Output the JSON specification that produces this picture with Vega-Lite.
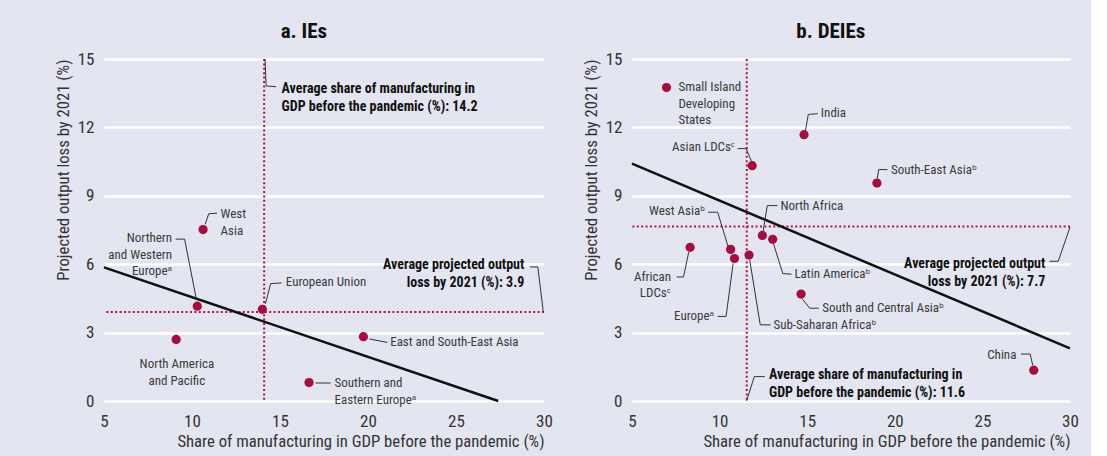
{
  "$schema": "https://vega.github.io/schema/vega-lite/v6.json",
  "padding": {"left": 55, "top": 21, "right": 12, "bottom": 8},
  "spacing": 88,
  "bounds": "flush",
  "datasets": {
    "pts": [
      {"panel": "a", "name": "West Asia", "x": 10.63, "y": 7.52},
      {"panel": "a", "name": "Northern and Western Europe", "x": 10.3, "y": 4.16},
      {"panel": "a", "name": "European Union", "x": 14.0, "y": 4.02},
      {"panel": "a", "name": "North America and Pacific", "x": 9.1, "y": 2.7},
      {"panel": "a", "name": "East and South-East Asia", "x": 19.74, "y": 2.82},
      {"panel": "a", "name": "Southern and Eastern Europe", "x": 16.65, "y": 0.81},
      {"panel": "b", "name": "Small Island Developing States", "x": 6.97, "y": 13.75},
      {"panel": "b", "name": "India", "x": 14.82, "y": 11.68},
      {"panel": "b", "name": "Asian LDCs", "x": 11.86, "y": 10.32},
      {"panel": "b", "name": "South-East Asia", "x": 18.98, "y": 9.56},
      {"panel": "b", "name": "North Africa", "x": 12.44, "y": 7.26},
      {"panel": "b", "name": "Latin America", "x": 13.03, "y": 7.09},
      {"panel": "b", "name": "West Asia", "x": 10.63, "y": 6.65},
      {"panel": "b", "name": "Europe", "x": 10.85, "y": 6.25},
      {"panel": "b", "name": "Sub-Saharan Africa", "x": 11.68, "y": 6.4},
      {"panel": "b", "name": "African LDCs", "x": 8.32, "y": 6.74},
      {"panel": "b", "name": "South and Central Asia", "x": 14.65, "y": 4.69},
      {"panel": "b", "name": "China", "x": 27.93, "y": 1.35}
    ],
    "avg": [
      {"panel": "a", "dir": "v", "x": 14.1},
      {"panel": "a", "dir": "h", "y": 3.9},
      {"panel": "b", "dir": "v", "x": 11.55},
      {"panel": "b", "dir": "h", "y": 7.65}
    ],
    "reg": [
      {"panel": "a", "x": 5, "y": 5.86},
      {"panel": "a", "x": 27.4, "y": 0},
      {"panel": "b", "x": 5, "y": 10.41},
      {"panel": "b", "x": 30, "y": 2.31}
    ],
    "lbl": [
      {"panel": "a", "kind": "region", "name": "West Asia", "text": "West\nAsia", "x": 11.62, "y": 8.2},
      {"panel": "a", "kind": "region", "name": "Northern and Western Europe", "text": "Northern\nand Western\nEuropeᵃ", "x": 8.87, "y": 7.14},
      {"panel": "a", "kind": "region", "name": "European Union", "text": "European Union", "x": 15.33, "y": 5.22},
      {"panel": "a", "kind": "region", "name": "North America and Pacific", "text": "North America\nand Pacific", "x": 9.14, "y": 1.62},
      {"panel": "a", "kind": "region", "name": "East and South-East Asia", "text": "East and South-East Asia", "x": 21.26, "y": 2.57},
      {"panel": "a", "kind": "region", "name": "Southern and Eastern Europe", "text": "Southern and\nEastern Europeᵃ", "x": 18.1, "y": 0.77},
      {"panel": "a", "kind": "average", "name": "Average share", "text": "Average share of manufacturing in\nGDP before the pandemic (%): 14.2", "x": 15.09, "y": 13.7},
      {"panel": "a", "kind": "average", "name": "Average loss", "text": "Average projected output\nloss by 2021 (%): 3.9", "x": 28.88, "y": 5.98},
      {"panel": "b", "kind": "region", "name": "Small Island Developing States", "text": "Small Island\nDeveloping\nStates", "x": 7.65, "y": 13.76},
      {"panel": "b", "kind": "region", "name": "India", "text": "India", "x": 15.78, "y": 12.62},
      {"panel": "b", "kind": "region", "name": "Asian LDCs", "text": "Asian LDCsᶜ", "x": 10.89, "y": 11.13},
      {"panel": "b", "kind": "region", "name": "South-East Asia", "text": "South-East Asiaᵇ", "x": 19.78, "y": 10.15},
      {"panel": "b", "kind": "region", "name": "North Africa", "text": "North Africa", "x": 13.47, "y": 8.57},
      {"panel": "b", "kind": "region", "name": "Latin America", "text": "Latin Americaᵇ", "x": 14.27, "y": 5.56},
      {"panel": "b", "kind": "region", "name": "West Asia", "text": "West Asiaᵇ", "x": 9.18, "y": 8.34},
      {"panel": "b", "kind": "region", "name": "African LDCs", "text": "African\nLDCsᶜ", "x": 7.23, "y": 5.44},
      {"panel": "b", "kind": "region", "name": "Europe", "text": "Europeᵃ", "x": 9.69, "y": 3.71},
      {"panel": "b", "kind": "region", "name": "Sub-Saharan Africa", "text": "Sub-Saharan Africaᵇ", "x": 13.07, "y": 3.34},
      {"panel": "b", "kind": "region", "name": "South and Central Asia", "text": "South and Central Asiaᵇ", "x": 15.86, "y": 4.07},
      {"panel": "b", "kind": "region", "name": "China", "text": "China", "x": 26.94, "y": 2.03},
      {"panel": "b", "kind": "average", "name": "Average share", "text": "Average share of manufacturing in\nGDP before the pandemic (%): 11.6", "x": 12.82, "y": 1.12},
      {"panel": "b", "kind": "average", "name": "Average loss", "text": "Average projected output\nloss by 2021 (%): 7.7", "x": 28.59, "y": 6.01}
    ],
    "ldr": [
      {"panel": "a", "name": "West Asia", "i": 0, "x": 10.75, "y": 7.75},
      {"panel": "a", "name": "West Asia", "i": 1, "x": 10.95, "y": 8.21},
      {"panel": "a", "name": "West Asia", "i": 2, "x": 11.42, "y": 8.24},
      {"panel": "a", "name": "Northern and Western Europe", "i": 0, "x": 9.07, "y": 7.1},
      {"panel": "a", "name": "Northern and Western Europe", "i": 1, "x": 9.58, "y": 7.1},
      {"panel": "a", "name": "Northern and Western Europe", "i": 2, "x": 10.24, "y": 4.49},
      {"panel": "a", "name": "European Union", "i": 0, "x": 14.17, "y": 4.26},
      {"panel": "a", "name": "European Union", "i": 1, "x": 14.47, "y": 5.15},
      {"panel": "a", "name": "European Union", "i": 2, "x": 15.09, "y": 5.18},
      {"panel": "a", "name": "East and South-East Asia", "i": 0, "x": 20.08, "y": 2.72},
      {"panel": "a", "name": "East and South-East Asia", "i": 1, "x": 21.1, "y": 2.57},
      {"panel": "a", "name": "Southern and Eastern Europe", "i": 0, "x": 17.02, "y": 0.79},
      {"panel": "a", "name": "Southern and Eastern Europe", "i": 1, "x": 17.88, "y": 0.79},
      {"panel": "a", "name": "Average share", "i": 0, "x": 14.15, "y": 15},
      {"panel": "a", "name": "Average share", "i": 1, "x": 14.21, "y": 13.82},
      {"panel": "a", "name": "Average share", "i": 2, "x": 14.78, "y": 13.78},
      {"panel": "a", "name": "Average loss", "i": 0, "x": 29.21, "y": 5.88},
      {"panel": "a", "name": "Average loss", "i": 1, "x": 29.65, "y": 5.88},
      {"panel": "a", "name": "Average loss", "i": 2, "x": 29.96, "y": 3.91},
      {"panel": "b", "name": "India", "i": 0, "x": 14.9, "y": 11.84},
      {"panel": "b", "name": "India", "i": 1, "x": 15.06, "y": 12.57},
      {"panel": "b", "name": "India", "i": 2, "x": 15.6, "y": 12.6},
      {"panel": "b", "name": "Asian LDCs", "i": 0, "x": 11.03, "y": 11.07},
      {"panel": "b", "name": "Asian LDCs", "i": 1, "x": 11.52, "y": 11.07},
      {"panel": "b", "name": "Asian LDCs", "i": 2, "x": 11.82, "y": 10.51},
      {"panel": "b", "name": "South-East Asia", "i": 0, "x": 19.0, "y": 9.75},
      {"panel": "b", "name": "South-East Asia", "i": 1, "x": 19.08, "y": 10.15},
      {"panel": "b", "name": "South-East Asia", "i": 2, "x": 19.58, "y": 10.15},
      {"panel": "b", "name": "North Africa", "i": 0, "x": 13.31, "y": 8.57},
      {"panel": "b", "name": "North Africa", "i": 1, "x": 12.72, "y": 8.57},
      {"panel": "b", "name": "North Africa", "i": 2, "x": 12.48, "y": 7.43},
      {"panel": "b", "name": "Latin America", "i": 0, "x": 13.07, "y": 6.91},
      {"panel": "b", "name": "Latin America", "i": 1, "x": 13.61, "y": 5.59},
      {"panel": "b", "name": "Latin America", "i": 2, "x": 14.11, "y": 5.56},
      {"panel": "b", "name": "West Asia", "i": 0, "x": 9.34, "y": 8.28},
      {"panel": "b", "name": "West Asia", "i": 1, "x": 9.89, "y": 8.28},
      {"panel": "b", "name": "West Asia", "i": 2, "x": 10.49, "y": 6.76},
      {"panel": "b", "name": "African LDCs", "i": 0, "x": 7.55, "y": 5.44},
      {"panel": "b", "name": "African LDCs", "i": 1, "x": 7.94, "y": 5.44},
      {"panel": "b", "name": "African LDCs", "i": 2, "x": 8.24, "y": 6.54},
      {"panel": "b", "name": "Europe", "i": 0, "x": 9.89, "y": 3.71},
      {"panel": "b", "name": "Europe", "i": 1, "x": 10.37, "y": 3.71},
      {"panel": "b", "name": "Europe", "i": 2, "x": 10.77, "y": 6.03},
      {"panel": "b", "name": "Sub-Saharan Africa", "i": 0, "x": 11.72, "y": 6.18},
      {"panel": "b", "name": "Sub-Saharan Africa", "i": 1, "x": 12.32, "y": 3.34},
      {"panel": "b", "name": "Sub-Saharan Africa", "i": 2, "x": 12.92, "y": 3.34},
      {"panel": "b", "name": "South and Central Asia", "i": 0, "x": 14.71, "y": 4.49},
      {"panel": "b", "name": "South and Central Asia", "i": 1, "x": 15.14, "y": 4.07},
      {"panel": "b", "name": "South and Central Asia", "i": 2, "x": 15.66, "y": 4.07},
      {"panel": "b", "name": "China", "i": 0, "x": 27.2, "y": 2.06},
      {"panel": "b", "name": "China", "i": 1, "x": 27.73, "y": 2.06},
      {"panel": "b", "name": "China", "i": 2, "x": 27.87, "y": 1.57},
      {"panel": "b", "name": "Average share", "i": 0, "x": 11.54, "y": 0},
      {"panel": "b", "name": "Average share", "i": 1, "x": 11.98, "y": 1.07},
      {"panel": "b", "name": "Average share", "i": 2, "x": 12.58, "y": 1.07},
      {"panel": "b", "name": "Average loss", "i": 0, "x": 28.83, "y": 6.13},
      {"panel": "b", "name": "Average loss", "i": 1, "x": 29.33, "y": 6.13},
      {"panel": "b", "name": "Average loss", "i": 2, "x": 30.0, "y": 7.63}
    ]
  },
  "hconcat": [
    {
      "title": {"text": "a. IEs", "frame": "bounds"},
      "width": 440,
      "height": 342,
      "layer": [
        {"data": {"name": "avg"}, "transform": [{"filter": "datum.panel == 'a' && datum.dir == 'v'"}],
         "mark": {"type": "rule", "color": "#b0143f", "strokeWidth": 2, "strokeDash": [2, 2.4]},
         "encoding": {"x": {"field": "x", "type": "quantitative", "scale": {"domain": [5, 30], "nice": false, "zero": false}, "axis": {"values": [5, 10, 15, 20, 25, 30], "title": "Share of manufacturing in GDP before the pandemic (%)"}}}},
        {"data": {"name": "avg"}, "transform": [{"filter": "datum.panel == 'a' && datum.dir == 'h'"}],
         "mark": {"type": "rule", "color": "#b0143f", "strokeWidth": 2, "strokeDash": [2, 2.4]},
         "encoding": {"y": {"field": "y", "type": "quantitative", "scale": {"domain": [0, 15], "nice": false, "zero": false}, "axis": {"values": [0, 3, 6, 9, 12, 15], "title": "Projected output loss by 2021 (%)"}}}},
        {"data": {"name": "reg"}, "transform": [{"filter": "datum.panel == 'a'"}],
         "mark": {"type": "line", "color": "#111111", "strokeWidth": 2.5},
         "encoding": {
           "x": {"field": "x", "type": "quantitative", "scale": {"domain": [5, 30], "nice": false, "zero": false}, "axis": {"values": [5, 10, 15, 20, 25, 30], "title": "Share of manufacturing in GDP before the pandemic (%)"}},
           "y": {"field": "y", "type": "quantitative", "scale": {"domain": [0, 15], "nice": false, "zero": false}, "axis": {"values": [0, 3, 6, 9, 12, 15], "title": "Projected output loss by 2021 (%)"}}}},
        {"data": {"name": "ldr"}, "transform": [{"filter": "datum.panel == 'a'"}],
         "mark": {"type": "line", "color": "#333333", "strokeWidth": 1, "clip": false},
         "encoding": {
           "x": {"field": "x", "type": "quantitative", "scale": {"domain": [5, 30], "nice": false, "zero": false}, "axis": {"values": [5, 10, 15, 20, 25, 30], "title": "Share of manufacturing in GDP before the pandemic (%)"}},
           "y": {"field": "y", "type": "quantitative", "scale": {"domain": [0, 15], "nice": false, "zero": false}, "axis": {"values": [0, 3, 6, 9, 12, 15], "title": "Projected output loss by 2021 (%)"}},
           "detail": {"field": "name"},
           "order": {"field": "i", "type": "quantitative"}}},
        {"data": {"name": "pts"}, "transform": [{"filter": "datum.panel == 'a'"}],
         "mark": {"type": "circle", "size": 85, "opacity": 1, "color": "#a50d3e"},
         "encoding": {
           "x": {"field": "x", "type": "quantitative", "scale": {"domain": [5, 30], "nice": false, "zero": false}, "axis": {"values": [5, 10, 15, 20, 25, 30], "title": "Share of manufacturing in GDP before the pandemic (%)"}},
           "y": {"field": "y", "type": "quantitative", "scale": {"domain": [0, 15], "nice": false, "zero": false}, "axis": {"values": [0, 3, 6, 9, 12, 15], "title": "Projected output loss by 2021 (%)"}}}},
        {"data": {"name": "lbl"}, "transform": [{"filter": "datum.panel == 'a' && datum.kind == 'region' && indexof(['Northern and Western Europe', 'North America and Pacific'], datum.name) < 0"}],
         "mark": {"type": "text", "align": "left", "baseline": "middle", "fontSize": 13, "color": "#3a3a3a", "lineBreak": "\n", "lineHeight": 16.5},
         "encoding": {"x": {"field": "x", "type": "quantitative"}, "y": {"field": "y", "type": "quantitative"}, "text": {"field": "text"}}},
        {"data": {"name": "lbl"}, "transform": [{"filter": "datum.panel == 'a' && datum.name == 'Northern and Western Europe'"}],
         "mark": {"type": "text", "align": "right", "baseline": "middle", "fontSize": 13, "color": "#3a3a3a", "lineBreak": "\n", "lineHeight": 16.5},
         "encoding": {"x": {"field": "x", "type": "quantitative"}, "y": {"field": "y", "type": "quantitative"}, "text": {"field": "text"}}},
        {"data": {"name": "lbl"}, "transform": [{"filter": "datum.panel == 'a' && datum.name == 'North America and Pacific'"}],
         "mark": {"type": "text", "align": "center", "baseline": "middle", "fontSize": 13, "color": "#3a3a3a", "lineBreak": "\n", "lineHeight": 16.5},
         "encoding": {"x": {"field": "x", "type": "quantitative"}, "y": {"field": "y", "type": "quantitative"}, "text": {"field": "text"}}},
        {"data": {"name": "lbl"}, "transform": [{"filter": "datum.panel == 'a' && datum.name == 'Average share'"}],
         "mark": {"type": "text", "align": "left", "baseline": "middle", "fontSize": 14, "fontWeight": "bold", "color": "#111111", "lineBreak": "\n", "lineHeight": 18},
         "encoding": {"x": {"field": "x", "type": "quantitative"}, "y": {"field": "y", "type": "quantitative"}, "text": {"field": "text"}}},
        {"data": {"name": "lbl"}, "transform": [{"filter": "datum.panel == 'a' && datum.name == 'Average loss'"}],
         "mark": {"type": "text", "align": "right", "baseline": "middle", "fontSize": 14, "fontWeight": "bold", "color": "#111111", "lineBreak": "\n", "lineHeight": 18},
         "encoding": {"x": {"field": "x", "type": "quantitative"}, "y": {"field": "y", "type": "quantitative"}, "text": {"field": "text"}}}
      ]
    },
    {
      "title": {"text": "b. DEIEs", "frame": "bounds"},
      "width": 438,
      "height": 342,
      "layer": [
        {"data": {"name": "avg"}, "transform": [{"filter": "datum.panel == 'b' && datum.dir == 'v'"}],
         "mark": {"type": "rule", "color": "#b0143f", "strokeWidth": 2, "strokeDash": [2, 2.4]},
         "encoding": {"x": {"field": "x", "type": "quantitative", "scale": {"domain": [5, 30], "nice": false, "zero": false}, "axis": {"values": [5, 10, 15, 20, 25, 30], "title": "Share of manufacturing in GDP before the pandemic (%)"}}}},
        {"data": {"name": "avg"}, "transform": [{"filter": "datum.panel == 'b' && datum.dir == 'h'"}],
         "mark": {"type": "rule", "color": "#b0143f", "strokeWidth": 2, "strokeDash": [2, 2.4]},
         "encoding": {"y": {"field": "y", "type": "quantitative", "scale": {"domain": [0, 15], "nice": false, "zero": false}, "axis": {"values": [0, 3, 6, 9, 12, 15], "title": "Projected output loss by 2021 (%)"}}}},
        {"data": {"name": "reg"}, "transform": [{"filter": "datum.panel == 'b'"}],
         "mark": {"type": "line", "color": "#111111", "strokeWidth": 2.5},
         "encoding": {
           "x": {"field": "x", "type": "quantitative", "scale": {"domain": [5, 30], "nice": false, "zero": false}, "axis": {"values": [5, 10, 15, 20, 25, 30], "title": "Share of manufacturing in GDP before the pandemic (%)"}},
           "y": {"field": "y", "type": "quantitative", "scale": {"domain": [0, 15], "nice": false, "zero": false}, "axis": {"values": [0, 3, 6, 9, 12, 15], "title": "Projected output loss by 2021 (%)"}}}},
        {"data": {"name": "ldr"}, "transform": [{"filter": "datum.panel == 'b'"}],
         "mark": {"type": "line", "color": "#333333", "strokeWidth": 1, "clip": false},
         "encoding": {
           "x": {"field": "x", "type": "quantitative", "scale": {"domain": [5, 30], "nice": false, "zero": false}, "axis": {"values": [5, 10, 15, 20, 25, 30], "title": "Share of manufacturing in GDP before the pandemic (%)"}},
           "y": {"field": "y", "type": "quantitative", "scale": {"domain": [0, 15], "nice": false, "zero": false}, "axis": {"values": [0, 3, 6, 9, 12, 15], "title": "Projected output loss by 2021 (%)"}},
           "detail": {"field": "name"},
           "order": {"field": "i", "type": "quantitative"}}},
        {"data": {"name": "pts"}, "transform": [{"filter": "datum.panel == 'b'"}],
         "mark": {"type": "circle", "size": 85, "opacity": 1, "color": "#a50d3e"},
         "encoding": {
           "x": {"field": "x", "type": "quantitative", "scale": {"domain": [5, 30], "nice": false, "zero": false}, "axis": {"values": [5, 10, 15, 20, 25, 30], "title": "Share of manufacturing in GDP before the pandemic (%)"}},
           "y": {"field": "y", "type": "quantitative", "scale": {"domain": [0, 15], "nice": false, "zero": false}, "axis": {"values": [0, 3, 6, 9, 12, 15], "title": "Projected output loss by 2021 (%)"}}}},
        {"data": {"name": "lbl"}, "transform": [{"filter": "datum.panel == 'b' && datum.kind == 'region' && indexof(['Asian LDCs', 'West Asia', 'African LDCs', 'Europe', 'China'], datum.name) < 0"}],
         "mark": {"type": "text", "align": "left", "baseline": "middle", "fontSize": 13, "color": "#3a3a3a", "lineBreak": "\n", "lineHeight": 16.5},
         "encoding": {"x": {"field": "x", "type": "quantitative"}, "y": {"field": "y", "type": "quantitative"}, "text": {"field": "text"}}},
        {"data": {"name": "lbl"}, "transform": [{"filter": "datum.panel == 'b' && indexof(['Asian LDCs', 'West Asia', 'African LDCs', 'Europe', 'China'], datum.name) >= 0"}],
         "mark": {"type": "text", "align": "right", "baseline": "middle", "fontSize": 13, "color": "#3a3a3a", "lineBreak": "\n", "lineHeight": 16.5},
         "encoding": {"x": {"field": "x", "type": "quantitative"}, "y": {"field": "y", "type": "quantitative"}, "text": {"field": "text"}}},
        {"data": {"name": "lbl"}, "transform": [{"filter": "datum.panel == 'b' && datum.name == 'Average share'"}],
         "mark": {"type": "text", "align": "left", "baseline": "middle", "fontSize": 14, "fontWeight": "bold", "color": "#111111", "lineBreak": "\n", "lineHeight": 18},
         "encoding": {"x": {"field": "x", "type": "quantitative"}, "y": {"field": "y", "type": "quantitative"}, "text": {"field": "text"}}},
        {"data": {"name": "lbl"}, "transform": [{"filter": "datum.panel == 'b' && datum.name == 'Average loss'"}],
         "mark": {"type": "text", "align": "right", "baseline": "middle", "fontSize": 14, "fontWeight": "bold", "color": "#111111", "lineBreak": "\n", "lineHeight": 18},
         "encoding": {"x": {"field": "x", "type": "quantitative"}, "y": {"field": "y", "type": "quantitative"}, "text": {"field": "text"}}}
      ]
    }
  ],
  "config": {
    "background": "#e3e5f0",
    "font": "Roboto Condensed, Liberation Sans Narrow, Arial Narrow, DejaVu Sans Condensed, sans-serif",
    "view": {"stroke": null},
    "title": {"fontSize": 21, "fontWeight": "bold", "color": "#111111", "anchor": "middle", "offset": 8, "font": "Roboto Condensed, Liberation Sans Narrow, Arial Narrow, DejaVu Sans Condensed, sans-serif"},
    "axis": {"domain": false, "ticks": false, "tickSize": 0, "labelFlush": false, "labelFontSize": 17, "labelColor": "#333333", "titleFontSize": 16.7, "titleFontWeight": "normal", "titleColor": "#333333"},
    "axisY": {"grid": true, "gridColor": "#ffffff", "gridWidth": 2.5, "labelPadding": 10, "titlePadding": 5, "titleAnchor": "end"},
    "axisX": {"grid": false, "labelPadding": 12, "titlePadding": 4, "titleAnchor": "end"}
  }
}
